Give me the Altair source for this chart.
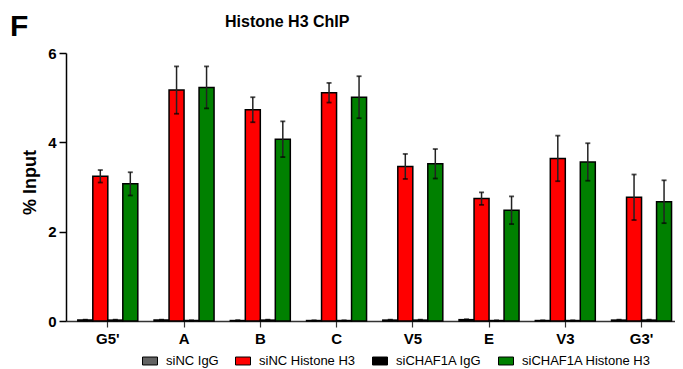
import altair as alt
import pandas as pd

regions = ["G5'", "A", "B", "C", "V5", "E", "V3", "G3'"]
series = ["siNC IgG", "siNC Histone H3", "siCHAF1A IgG", "siCHAF1A Histone H3"]
colors = ["#636363", "#ff0000", "#000000", "#008000"]

sinc_igg = [0.02, 0.02, 0.01, 0.01, 0.02, 0.03, 0.01, 0.02]
sinc_igg_err = [0.01, 0.01, 0.01, 0.00, 0.01, 0.01, 0.00, 0.01]
sinc_h3 = [3.24, 5.17, 4.73, 5.11, 3.46, 2.74, 3.64, 2.77]
sinc_h3_err = [0.14, 0.53, 0.28, 0.22, 0.28, 0.14, 0.51, 0.51]
sichaf_igg = [0.02, 0.01, 0.02, 0.01, 0.02, 0.01, 0.01, 0.02]
sichaf_igg_err = [0.01, 0.00, 0.01, 0.00, 0.01, 0.00, 0.00, 0.01]
sichaf_h3 = [3.07, 5.23, 4.07, 5.01, 3.52, 2.48, 3.56, 2.67]
sichaf_h3_err = [0.26, 0.47, 0.40, 0.47, 0.33, 0.31, 0.42, 0.48]

title_text = "Histone H3 ChIP"
panel_text = "F"

values = [sinc_igg, sinc_h3, sichaf_igg, sichaf_h3]
errors = [sinc_igg_err, sinc_h3_err, sichaf_igg_err, sichaf_h3_err]

rows = []
for s, vals, errs in zip(series, values, errors):
    for r, v, e in zip(regions, vals, errs):
        rows.append({"region": r, "series": s, "value": v,
                     "lo": max(v - e, 0), "hi": v + e})
df = pd.DataFrame(rows)

FONT = "Liberation Sans"

x_enc = alt.X("region:N", sort=regions,
              scale=alt.Scale(paddingInner=0.213, paddingOuter=0.1, align=0.774),
              axis=alt.Axis(title=None, labelAngle=0, labelFont=FONT, labelFontSize=15,
                            labelFontWeight="bold", labelColor="black", labelPadding=4,
                            tickSize=6, tickColor="#333333", tickWidth=1.2,
                            domainColor="#333333", domainWidth=1.5))
xoff = alt.XOffset("series:N", sort=series, scale=alt.Scale(paddingInner=0, paddingOuter=0))
y_scale = alt.Scale(domain=[0, 6], nice=False, zero=True)

base = alt.Chart(df)

bars = base.mark_bar(stroke="black", strokeWidth=1.5, opacity=1).encode(
    x=x_enc,
    xOffset=xoff,
    y=alt.Y("value:Q", scale=y_scale,
            axis=alt.Axis(values=[0, 2, 4, 6], title="% Input", grid=False,
                          labelFont=FONT, labelFontSize=15, labelFontWeight="bold",
                          labelColor="black", labelPadding=3,
                          tickSize=7, tickColor="black", tickWidth=1.5,
                          domainColor="black", domainWidth=1.5,
                          titleFont=FONT, titleFontSize=18, titleFontWeight="bold",
                          titleColor="black", titleAngle=-90, titleX=-36, titleY=129,
                          titleAlign="center", titleBaseline="middle")),
    color=alt.Color("series:N", sort=series,
                    scale=alt.Scale(domain=series, range=colors),
                    legend=alt.Legend(title=None, orient="none", direction="horizontal",
                                      legendX=76, legendY=300, padding=0,
                                      symbolType="M-1,-0.53H1V0.53H-1Z", symbolSize=225,
                                      symbolStrokeColor="black", symbolStrokeWidth=1,
                                      symbolOpacity=1,
                                      labelFont=FONT, labelFontSize=13, labelColor="black",
                                      labelOffset=8, columnPadding=14)),
)

rules = base.mark_rule(color="#222222", strokeWidth=1.5).encode(
    x=alt.X("region:N", sort=regions), xOffset=xoff,
    y=alt.Y("lo:Q", scale=y_scale), y2="hi:Q",
)
caps_hi = base.mark_tick(color="black", thickness=1.8, size=5).encode(
    x=alt.X("region:N", sort=regions), xOffset=xoff,
    y=alt.Y("hi:Q", scale=y_scale),
)
caps_lo = base.mark_tick(color="black", thickness=1.8, size=5).encode(
    x=alt.X("region:N", sort=regions), xOffset=xoff,
    y=alt.Y("lo:Q", scale=y_scale),
)

panel_label = alt.Chart(pd.DataFrame({"t": [panel_text]})).mark_text(
    font=FONT, fontSize=30, fontWeight="bold", align="left", baseline="alphabetic",
    color="black"
).encode(text="t:N", x=alt.value(-56), y=alt.value(-17))

title_label = alt.Chart(pd.DataFrame({"t": [title_text]})).mark_text(
    font=FONT, fontSize=16, fontWeight="bold", align="left", baseline="alphabetic",
    color="black"
).encode(text="t:N", x=alt.value(159), y=alt.value(-26))

chart = alt.layer(bars, rules, caps_hi, caps_lo, panel_label, title_label).properties(
    width=609, height=268,
    autosize=alt.AutoSizeParams(type="none"),
    padding={"left": 58, "top": 45, "right": 0, "bottom": 48},
).configure_view(stroke=None).configure_axis(grid=False)

chart.save("out.html", embed_options={"renderer": "svg", "actions": False})
